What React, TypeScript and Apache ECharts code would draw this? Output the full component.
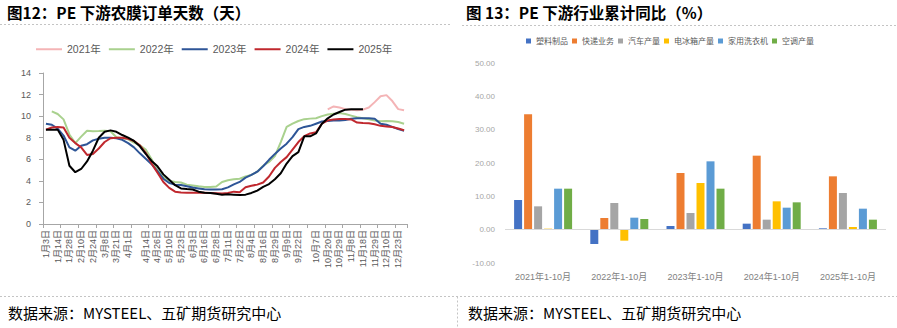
import React, { useEffect, useRef } from "react";
import * as echarts from "echarts";

// ---------- Left chart: PE 下游农膜订单天数 ----------
const dates = [
  "1月3日", "1月9日", "1月14日", "1月21日", "1月28日", "2月4日", "2月10日", "2月17日", "2月24日", "3月3日",
  "3月8日", "3月14日", "3月21日", "3月27日", "4月1日", "4月6日", "4月10日", "4月14日", "4月20日", "4月26日",
  "5月3日", "5月10日", "5月16日", "5月23日", "5月28日", "6月3日", "6月10日", "6月16日", "6月22日", "6月28日",
  "7月4日", "7月11日", "7月17日", "7月22日", "7月29日", "8月4日", "8月10日", "8月16日", "8月22日", "8月29日",
  "9月3日", "9月9日", "9月15日", "9月22日", "9月26日", "10月1日", "10月7日", "10月14日", "10月20日", "10月24日",
  "10月29日", "11月3日", "11月8日", "11月13日", "11月18日", "11月23日", "11月29日", "12月4日", "12月10日", "12月16日",
  "12月23日", "12月30日",
];

const xTickLabels = [
  "1月3日", "1月14日", "1月28日", "2月10日", "2月24日", "3月8日", "3月21日", "4月1日", "4月14日", "4月26日",
  "5月10日", "5月23日", "6月3日", "6月16日", "6月28日", "7月11日", "7月22日", "8月4日", "8月16日", "8月29日",
  "9月9日", "9月22日", "10月7日", "10月20日", "10月29日", "11月8日", "11月18日", "11月29日", "12月10日", "12月23日",
];

const lineNames = ["2021年", "2022年", "2023年", "2024年", "2025年"];

const days2021 = [
  null, null, null, null, null, null, null, null, null, null,
  null, null, null, null, null, null, null, null, null, null,
  null, null, null, null, null, null, null, null, null, null,
  null, null, null, null, null, null, null, null, null, null,
  null, null, null, null, null, null, null, null,
  10.63, 10.9, 10.8, 10.65, 10.6, 10.55, 10.6, 10.8, 11.3, 11.85, 11.95, 11.4, 10.65, 10.55,
];

const days2022 = [
  null, 10.45, 10.2, 9.7, 8.3, 7.5, 8.1, 8.65, 8.6, 8.62,
  8.65, 8.6, 8.05, 7.95, 7.85, 7.55, 7.3, 6.9, 6.0, 5.0,
  4.36, 4.0, 3.9, 3.85, 3.65, 3.58, 3.5, 3.43, 3.43, 3.48,
  3.9, 4.05, 4.14, 4.2, 4.4, 4.55, 4.85, 5.4, 5.75, 6.3,
  7.6, 9.0, 9.3, 9.55, 9.72, 9.77, 9.8, 10.0, 10.15, 10.23,
  10.28, 10.2, 10.05, 9.9, 9.8, 9.72, 9.6, 9.52, 9.55, 9.52,
  9.45, 9.3,
];

const days2023 = [
  9.3, 9.2, 8.85, 8.2, 7.1, 6.8, 7.25, 7.4, 7.75, 7.9,
  8.0, 8.0, 7.95, 7.8, 7.5, 7.1, 6.55, 6.05, 5.55, 4.9,
  4.2, 3.8, 3.65, 3.62, 3.5, 3.38, 3.3, 3.22, 3.2, 3.2,
  3.22, 3.4, 3.67, 3.9, 4.3, 4.55, 4.85, 5.35, 5.95, 6.5,
  7.0, 7.45, 8.05, 8.8, 9.0, 9.1, 9.3, 9.5, 9.55, 9.6,
  9.6, 9.65, 9.75, 9.8, 9.8, 9.8, 9.75, 9.3, 9.2, 9.0,
  8.8, 8.65,
];

const days2024 = [
  8.75, 8.95, 9.0, 8.95, 8.0, 7.5, 7.1, 6.4, 6.5, 7.0,
  7.6, 7.95, 8.0, 8.0, 7.9, 7.7, 7.3, 6.6, 5.6, 4.75,
  3.9, 3.35, 3.0, 2.93, 2.9, 2.9, 2.9, 2.9, 2.88, 2.85,
  2.82, 2.88, 3.0, 2.95, 3.4, 3.55, 3.65, 3.85, 4.4, 5.2,
  5.75, 6.2, 6.9, 7.6, 8.15, 8.4, 8.5, 9.3, 9.6, 9.7,
  9.73, 9.73, 9.7, 9.4, 9.36, 9.35, 9.25, 9.1, 9.05, 9.0,
  8.85, 8.7,
];

const days2025 = [
  8.75, 8.75, 8.75, 7.8, 5.4, 4.8, 5.1, 5.8, 6.8, 8.0,
  8.55, 8.68, 8.55, 8.25, 8.0, 7.7, 7.2, 6.5, 5.85, 5.35,
  4.6, 4.1, 3.6, 3.3, 3.24, 3.2, 3.0, 2.9, 2.87, 2.8,
  2.72, 2.75, 2.72, 2.69, 2.72, 2.88, 3.1, 3.45, 3.7, 4.15,
  4.7, 5.6, 6.3, 6.67, 8.13, 8.13, 8.4, 9.3, 9.8, 10.15,
  10.38, 10.6, 10.63, 10.63, 10.63,
];

const lineColors = ["#f4b4b6", "#a9d18e", "#2e5597", "#c0282e", "#000000"];
const yLeftTicks = { min: 0, max: 14, interval: 2 };

// ---------- Right chart: PE 下游行业累计同比 ----------
const barCategories = ["2021年1-10月", "2022年1-10月", "2023年1-10月", "2024年1-10月", "2025年1-10月"];
const barNames = ["塑料制品", "快递业务", "汽车产量", "电冰箱产量", "家用洗衣机", "空调产量"];
const plasticProducts = [8.9, -4.3, 1.1, 1.8, 0.4];
const expressBusiness = [34.6, 3.5, 17.0, 22.2, 16.0];
const autoOutput = [7.0, 8.0, 5.0, 3.0, 11.0];
const fridgeOutput = [0.3, -3.3, 14.0, 8.5, 0.8];
const washerOutput = [12.3, 3.6, 20.5, 6.6, 6.3];
const acOutput = [12.3, 3.2, 12.3, 8.2, 3.0];
const barColors = ["#4472c4", "#ed7d31", "#a5a5a5", "#ffc000", "#5b9bd5", "#70ad47"];
const yRightTicks = { min: -10, max: 50, interval: 10 };

const titleLeft = "图12：PE 下游农膜订单天数（天）";
const titleRight = "图 13：PE 下游行业累计同比（%）";
const sourceText = "数据来源：MYSTEEL、五矿期货研究中心";

export default function App() {
  const ref = useRef<HTMLDivElement>(null);

  useEffect(() => {
    if (!ref.current) return;
    const chart = echarts.init(ref.current, null, { renderer: "svg" });
    const latin = '"Liberation Sans", Arial, "Noto Sans CJK SC", sans-serif';
    const cjk = '"Noto Sans CJK SC", sans-serif';

    const lineData = [days2021, days2022, days2023, days2024, days2025];
    const barData = [plasticProducts, expressBusiness, autoOutput, fridgeOutput, washerOutput, acOutput];

    const lineSeries = lineNames.map((name, i) => ({
      type: "line",
      name,
      data: lineData[i],
      xAxisIndex: 0,
      yAxisIndex: 0,
      symbol: "none",
      showSymbol: false,
      connectNulls: false,
      color: lineColors[i],
      itemStyle: { color: lineColors[i] },
      lineStyle: { width: 2, color: lineColors[i] },
    }));

    const barSeries = barNames.map((name, i) => ({
      type: "bar",
      name,
      data: barData[i],
      xAxisIndex: 1,
      yAxisIndex: 1,
      barWidth: 8,
      barGap: "25%",
      color: barColors[i],
      itemStyle: { color: barColors[i] },
      ...(i === 0
        ? {
            markLine: {
              silent: true,
              symbol: "none",
              label: { show: false },
              lineStyle: { color: "#d9d9d9", type: "solid", width: 1 },
              data: [{ yAxis: 0 }],
            },
          }
        : {}),
    }));

    const dash = { stroke: "#c4c4c4", lineWidth: 1, lineDash: [2, 2] };

    chart.setOption({
      animation: false,
      backgroundColor: "#ffffff",
      textStyle: { fontFamily: latin },
      grid: [
        { left: 43, top: 73, width: 364, height: 151 },
        { left: 505, top: 63, width: 381, height: 200 },
      ],
      legend: [
        {
          data: lineNames,
          left: 36,
          top: 44,
          padding: 0,
          icon: "rect",
          itemWidth: 26,
          itemHeight: 2,
          itemGap: 8,
          textStyle: { fontSize: 10.5, color: "#595959", fontFamily: latin },
        },
        {
          data: barNames,
          left: 526,
          top: 37,
          padding: 0,
          icon: "rect",
          itemWidth: 5,
          itemHeight: 5,
          itemGap: 4,
          textStyle: { fontSize: 8, color: "#595959", fontFamily: cjk },
        },
      ],
      xAxis: [
        {
          type: "category",
          gridIndex: 0,
          data: dates,
          boundaryGap: true,
          axisLine: { show: true, lineStyle: { color: "#a6a6a6", width: 1 } },
          axisTick: {
            show: true,
            length: 4,
            interval: (i: number) => i % 3 === 0,
            lineStyle: { color: "#a6a6a6" },
          },
          axisLabel: {
            interval: (_i: number, v: string) => xTickLabels.includes(v),
            rotate: 90,
            fontSize: 9,
            color: "#595959",
            margin: 6,
            fontFamily: latin,
          },
          splitLine: { show: false },
        },
        {
          type: "category",
          gridIndex: 1,
          data: barCategories,
          axisLine: { show: false },
          axisTick: { show: false },
          axisLabel: { fontSize: 9, color: "#7f7f7f", margin: 9, fontFamily: latin },
          splitLine: { show: false },
        },
      ],
      yAxis: [
        {
          type: "value",
          gridIndex: 0,
          ...yLeftTicks,
          axisLine: { show: true, lineStyle: { color: "#a6a6a6", width: 1 } },
          axisTick: { show: true, length: 4, lineStyle: { color: "#a6a6a6" } },
          axisLabel: { fontSize: 9, color: "#595959", margin: 12, fontFamily: latin },
          splitLine: { show: false },
        },
        {
          type: "value",
          gridIndex: 1,
          ...yRightTicks,
          axisLine: { show: false },
          axisTick: { show: false },
          axisLabel: {
            fontSize: 8,
            color: "#a6a6a6",
            margin: 10,
            fontFamily: latin,
            formatter: (v: number) => v.toFixed(2),
          },
          splitLine: { show: false },
        },
      ],
      series: [...lineSeries, ...barSeries],
      graphic: [
        {
          type: "text",
          left: 7,
          top: 4,
          style: { text: titleLeft, font: `bold 15.5px ${cjk}`, fill: "#000000" },
        },
        {
          type: "text",
          left: 466,
          top: 4,
          style: { text: titleRight, font: `bold 15.5px ${cjk}`, fill: "#000000" },
        },
        { type: "line", shape: { x1: 0, y1: 24.5, x2: 452, y2: 24.5 }, style: dash },
        { type: "line", shape: { x1: 462, y1: 25.5, x2: 897, y2: 25.5 }, style: dash },
        { type: "line", shape: { x1: 0, y1: 296.5, x2: 897, y2: 296.5 }, style: dash },
        { type: "line", shape: { x1: 457.5, y1: 296.5, x2: 457.5, y2: 328 }, style: dash },
        {
          type: "text",
          left: 8,
          top: 305,
          style: { text: sourceText, font: `15px ${cjk}`, fill: "#000000" },
        },
        {
          type: "text",
          left: 468,
          top: 305,
          style: { text: sourceText, font: `15px ${cjk}`, fill: "#000000" },
        },
      ],
    });

    return () => chart.dispose();
  }, []);

  return (
    <div
      ref={ref}
      style={{ position: "fixed", left: 0, top: 0, width: 897, height: 328, background: "#fff" }}
    />
  );
}
